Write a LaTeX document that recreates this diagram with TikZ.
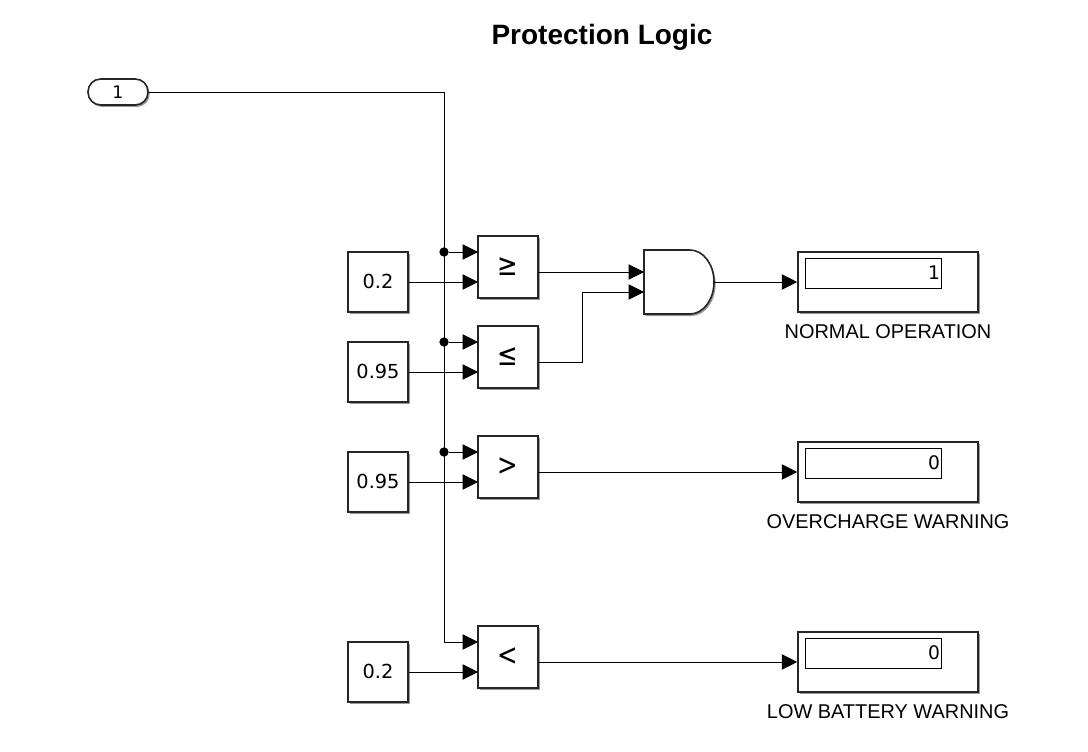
\documentclass[tikz,border=0pt]{standalone}
\usepackage{fontspec}
\setmainfont{Liberation Sans}
\newfontfamily\dvsans{DejaVu Sans}
\usetikzlibrary{arrows.meta,shadows,calc}
\newcommand{\cmpsym}[1]{\scalebox{0.9}[1.12]{#1}}
\tikzset{
  x=0.75pt,y=-0.75pt,
  blockshadow/.style={drop shadow={shadow xshift=1.2pt,shadow yshift=-1.5pt,fill=black,opacity=0.4}},
  block/.style={draw=black!85,line width=1.2pt,fill=white,inner sep=0pt,blockshadow},
  const/.style={block,minimum width=45pt,minimum height=45pt,text depth=1.5pt,font=\dvsans\fontsize{14.5}{16}\selectfont},
  cmp/.style={block,minimum width=45pt,minimum height=46.5pt,font=\dvsans\fontsize{20.5}{22}\selectfont},
  display/.style={block,minimum width=135pt,minimum height=45pt},
  readout/.style={draw=black,line width=0.6pt,fill=white,inner sep=0pt,minimum width=102pt,minimum height=22.5pt,align=right,text width=100.5pt,font=\dvsans\fontsize{14}{16}\selectfont},
  lbl/.style={inner sep=0pt,font=\fontsize{14.95}{16}\selectfont},
  wire/.style={draw=black,line width=0.7pt},
  arr/.style={wire,-{Triangle[length=11.5pt,width=11.5pt]}},
  junc/.style={circle,fill=black,inner sep=0pt,minimum size=7pt},
}
\begin{document}
\begin{tikzpicture}
\useasboundingbox (0,0) rectangle (1088,752);
\fill[white] (0,0) rectangle (1088,752);
\node[inner sep=0pt,font=\bfseries\fontsize{21}{24}\selectfont] (title) at (602,37) {Protection Logic};

% inport
\node[block,rounded corners=9.5pt,minimum width=45pt,minimum height=19.5pt,font=\dvsans\fontsize{13}{14}\selectfont] (in1) at (118,92) {1};

% constants
\node[const] (c1) at (378,282) {0.2};
\node[const] (c2) at (378,372) {0.95};
\node[const] (c3) at (378,482) {0.95};
\node[const] (c4) at (378,672) {0.2};

% comparators
\node[cmp] (ge) at (508,267) {\cmpsym{≥}};
\node[cmp] (le) at (508,357) {\cmpsym{≤}};
\node[cmp] (gt) at (508,467) {\cmpsym{>}};
\node[cmp] (lt) at (508,657) {\cmpsym{<}};

% AND gate
\draw[block] (644,250) -- (690,250) arc[start angle=90,end angle=-90,x radius=18pt,y radius=24pt] -- (644,314) -- cycle;

% displays
\node[display] (d1) at (888,282) {};
\node[display] (d2) at (888,472) {};
\node[display] (d3) at (888,662) {};
\node[readout] (r1) at (873,273) {1};
\node[readout] (r2) at (873,463) {0};
\node[readout] (r3) at (873,653) {0};
\node[lbl] (l1) at (888,332) {NORMAL OPERATION};
\node[lbl] (l2) at (888,522) {OVERCHARGE WARNING};
\node[lbl] (l3) at (888,712) {LOW BATTERY WARNING};

% ports and junctions
\coordinate (ge1) at (478,252); \coordinate (ge2) at (478,282); \coordinate (geo) at (538,272);
\coordinate (le1) at (478,342); \coordinate (le2) at (478,372); \coordinate (leo) at (538,362);
\coordinate (gt1) at (478,452); \coordinate (gt2) at (478,482); \coordinate (gto) at (538,472);
\coordinate (lt1) at (478,642); \coordinate (lt2) at (478,672); \coordinate (lto) at (538,662);
\coordinate (and1) at (644,272); \coordinate (and2) at (644,292); \coordinate (ando) at (714,282);
\coordinate (corner) at (444,92);
\coordinate (bend) at (582,362);
\node[junc] (j1) at (444,252) {};
\node[junc] (j2) at (444,342) {};
\node[junc] (j3) at (444,452) {};

% wires
\draw[arr] (in1.east) -- (corner) -- (corner |- lt1) -- (lt1);
\draw[arr] (j1) -- (ge1);
\draw[arr] (j2) -- (le1);
\draw[arr] (j3) -- (gt1);
\draw[arr] (c1.east) -- (ge2);
\draw[arr] (c2.east) -- (le2);
\draw[arr] (c3.east) -- (gt2);
\draw[arr] (c4.east) -- (lt2);
\draw[arr] (geo) -- (and1);
\draw[arr] (leo) -- (bend) -- (bend |- and2) -- (and2);
\draw[arr] (ando) -- (d1.west);
\draw[arr] (gto) -- (d2.west);
\draw[arr] (lto) -- (d3.west);
\end{tikzpicture}
\end{document}
